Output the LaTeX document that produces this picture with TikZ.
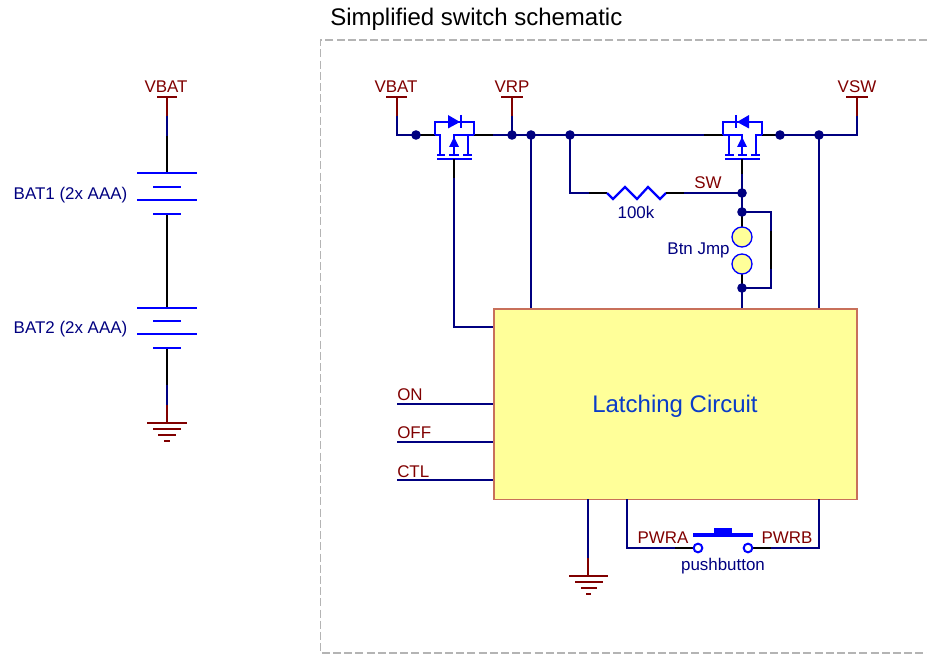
\documentclass[tikz,border=0pt]{standalone}
\usepackage{fontspec}
\setmainfont{Liberation Sans}
\usetikzlibrary{arrows.meta}
\definecolor{wireblue}{HTML}{000080}
\definecolor{symblue}{HTML}{0000FF}
\definecolor{portred}{HTML}{800000}
\definecolor{boxfill}{HTML}{FFFF99}
\definecolor{boxedge}{HTML}{C8705A}
\definecolor{frameg}{HTML}{B4B4B4}
\definecolor{bigtext}{HTML}{0A3CC8}
\definecolor{pinblack}{HTML}{000000}
\tikzset{
  wire/.style={draw=wireblue,line width=1.5pt},
  pin/.style={draw=pinblack,line width=1.5pt},
  port/.style={draw=portred,line width=1.5pt},
  sym/.style={draw=symblue,line width=1.7pt},
  thinsym/.style={draw=symblue,line width=1.5pt},
  junction/.style={circle,fill=wireblue,draw=none,minimum size=7.2pt,inner sep=0pt},
  lab/.style={text=wireblue,font=\fontsize{12.7pt}{14pt}\selectfont,inner sep=0pt},
  plab/.style={text=portred,font=\fontsize{12.7pt}{14pt}\selectfont,inner sep=0pt},
  term/.style={circle,draw=symblue,fill=white,line width=1.5pt,minimum size=6.5pt,inner sep=0pt},
  jmp/.style={circle,draw=symblue,fill=boxfill,line width=1pt,minimum size=15pt,inner sep=0pt},
}
\begin{document}
\begin{tikzpicture}[x=0.75pt,y=-0.75pt]
\useasboundingbox (0,0) rectangle (927,655);

% frame and title
\coordinate (fa) at (927,40);
\coordinate (fb) at (320.5,40);
\coordinate (fc) at (320.5,653);
\coordinate (fd) at (927,653);
\draw[frameg,line width=1.3pt,dash pattern=on 6pt off 2.4pt] (fa) -- (fb) -- (fc) -- (fd);
\node[anchor=base west,inner sep=0pt,font=\fontsize{18pt}{20pt}\selectfont] (title) at (330,25.5) {Simplified switch schematic};

% ---------- battery column ----------
\coordinate (bt) at (167,97);
\coordinate (btl) at (157,97);
\coordinate (btr) at (177,97);
\coordinate (b1) at (167,116);
\coordinate (b2) at (167,136);
\coordinate (b3) at (167,173.5);
\coordinate (b4) at (167,214);
\coordinate (b5) at (167,308);
\coordinate (b6) at (167,348);
\coordinate (b7) at (167,385);
\coordinate (b8) at (167,405);
\coordinate (b9) at (167,423);
\draw[port] (btl) -- (btr);
\draw[port] (bt) -- (b1);
\draw[wire] (b1) -- (b2);
\draw[pin] (b2) -- (b3);
\draw[pin] (b4) -- (b5);
\draw[pin] (b6) -- (b7);
\draw[wire] (b7) -- (b8);
\draw[port] (b8) -- (b9);
\draw[sym] (137,173) -- (197,173);
\draw[thinsym] (153,187) -- (181,187);
\draw[sym] (137,200) -- (197,200);
\draw[thinsym] (153,214) -- (181,214);
\draw[sym] (137,308) -- (197,308);
\draw[thinsym] (153,321) -- (181,321);
\draw[sym] (137,334) -- (197,334);
\draw[thinsym] (153,348) -- (181,348);
\draw[port] (147,423) -- (187,423);
\draw[port] (153,429) -- (181,429);
\draw[port] (158,435) -- (176,435);
\draw[port] (164,440.5) -- (170,440.5);
\node[plab,anchor=base] (vbat1) at (166,93) {VBAT};
\node[lab,anchor=base] (bat1) at (70.5,199.5) {BAT1 (2x AAA)};
\node[lab,anchor=base] (bat2) at (70.5,334) {BAT2 (2x AAA)};

% ---------- latching box ----------
\node[draw=boxedge,fill=boxfill,line width=1.2pt,minimum width=272.5pt,minimum height=143pt,inner sep=0pt,anchor=north west] (box) at (493,308) {};
\node[text=bigtext,font=\fontsize{18pt}{20pt}\selectfont,anchor=base,inner sep=0pt] (latch) at (675,412) {Latching Circuit};

% ---------- top rail ----------
\coordinate (p1t) at (397,97);
\coordinate (p1l) at (386,97);
\coordinate (p1r) at (407,97);
\coordinate (p1m) at (397,116);
\coordinate (p1c) at (397,135);
\coordinate (ml) at (435,135);
\coordinate (mr) at (474,135);
\coordinate (nl) at (723,135);
\coordinate (nr) at (762,135);
\coordinate (p4c) at (857,135);
\coordinate (p4m) at (857,116);
\coordinate (p4t) at (857,97);
\coordinate (p4l) at (846,97);
\coordinate (p4r) at (868,97);
\coordinate (p2m) at (512,116);
\coordinate (p2t) at (512,97);
\coordinate (p2l) at (501,97);
\coordinate (p2r) at (523,97);
\coordinate (w1) at (493,135);
\coordinate (w2) at (704,135);
\coordinate (wj1) at (416,135);
\coordinate (wj2) at (512,135);
\coordinate (wj3) at (531,135);
\coordinate (wj4) at (570,135);
\coordinate (wj5) at (780,135);
\coordinate (wj6) at (819,135);

\draw[port] (p1l) -- (p1r);
\draw[port] (p1t) -- (p1m);
\draw[wire] (p1m) -- (p1c) -- (wj1);
\draw[pin] (wj1) -- (ml);
\draw[pin] (mr) -- (w1);
\draw[wire] (w1) -- (wj2);
\draw[wire] (wj2) -- (wj3);
\draw[wire] (wj3) -- (wj4);
\draw[wire] (wj4) -- (w2);
\draw[pin] (w2) -- (nl);
\draw[pin] (nr) -- (wj5);
\draw[wire] (wj5) -- (wj6);
\draw[wire] (wj6) -- (p4c) -- (p4m);
\draw[port] (p4m) -- (p4t);
\draw[port] (p4l) -- (p4r);
\draw[port] (p2l) -- (p2r);
\draw[port] (p2t) -- (p2m);
\draw[wire] (p2m) -- (wj2);
\node[plab,anchor=base] (vbat2) at (396,93) {VBAT};
\node[plab,anchor=base] (vrp) at (512,93) {VRP};
\node[plab,anchor=base] (vsw) at (857,93) {VSW};

% left MOSFET
\draw[sym] (ml) -- (435,122) -- (474,122) -- (mr);
\draw[sym] (435,135) -- (440,135) -- (440,154);
\draw[sym] (474,135) -- (468,135) -- (468,154);
\draw[sym] (468,135) -- (454,135) -- (454,154);
\fill[symblue] (454,137) -- (459,147) -- (449,147) -- cycle;
\fill[symblue] (448,115) -- (460,122) -- (448,128.5) -- cycle;
\draw[sym] (461,115) -- (461,128.5);
\draw[sym] (437,155) -- (445,155);
\draw[sym] (449,155) -- (459,155);
\draw[sym] (463,155) -- (472,155);
\draw[sym] (437,159) -- (472,159);

% right MOSFET
\draw[sym] (nl) -- (723,122) -- (762,122) -- (nr);
\draw[sym] (723,135) -- (742,135) -- (742,154);
\draw[sym] (762,135) -- (756,135) -- (756,154);
\draw[sym] (729,135) -- (729,154);
\fill[symblue] (742,137) -- (747,147) -- (737,147) -- cycle;
\fill[symblue] (749,115) -- (737,122) -- (749,128.5) -- cycle;
\draw[sym] (736,115) -- (736,128.5);
\draw[sym] (725,155) -- (734,155);
\draw[sym] (738,155) -- (747,155);
\draw[sym] (751,155) -- (760,155);
\draw[sym] (725,159) -- (760,159);

% left gate and drops into box
\coordinate (g1) at (454,159);
\coordinate (g2) at (454,178);
\coordinate (g3) at (454,327);
\coordinate (g4) at (493,327);
\draw[pin] (g1) -- (g2);
\draw[wire] (g2) -- (g3) -- (g4);
\coordinate (d1) at (531,308);
\coordinate (d2) at (819,308);
\draw[wire] (wj3) -- (d1);
\draw[wire] (wj6) -- (d2);

% SW branch
\coordinate (wj7) at (742,193);
\coordinate (wj8) at (742,212);
\coordinate (wj9) at (742,288);
\coordinate (g5) at (742,159);
\coordinate (g6) at (742,174);
\coordinate (rc) at (570,193);
\coordinate (r0) at (589,193);
\coordinate (r1) at (607,193);
\coordinate (r2) at (666,193);
\coordinate (r3) at (684,193);
\coordinate (k1) at (771,212);
\coordinate (k2) at (771,288);
\coordinate (k3) at (771,231);
\coordinate (k4) at (771,269);
\coordinate (tbox) at (742,308);
\draw[pin] (g5) -- (g6);
\draw[wire] (g6) -- (wj7);
\draw[wire] (wj4) -- (rc) -- (r0);
\draw[pin] (r0) -- (r1);
\draw[sym] (r1) -- (613,199) -- (625,187) -- (637,199) -- (648,187) -- (660,199) -- (r2);
\draw[pin] (r2) -- (r3);
\draw[wire] (r3) -- (wj7);
\draw[wire] (wj7) -- (wj8);
\draw[wire] (wj8) -- (k1) -- (k3);
\draw[pin] (k3) -- (k4);
\draw[wire] (k4) -- (k2) -- (wj9);
\draw[pin] (wj8) -- (742,237);
\draw[pin] (742,264) -- (wj9);
\draw[wire] (wj9) -- (tbox);
\node[jmp] (jp1) at (742,237) {};
\node[jmp] (jp2) at (742,264) {};
\node[plab,anchor=base] (sw) at (708,189) {SW};
\node[lab,anchor=base] (r100k) at (636,219) {100k};
\node[lab,anchor=base] (btn) at (698.5,254.5) {Btn Jmp};

% junction dots on top of the wires
\node[junction] (j1) at (wj1) {};
\node[junction] (j2) at (wj2) {};
\node[junction] (j3) at (wj3) {};
\node[junction] (j4) at (wj4) {};
\node[junction] (j5) at (wj5) {};
\node[junction] (j6) at (wj6) {};
\node[junction] (j7) at (wj7) {};
\node[junction] (j8) at (wj8) {};
\node[junction] (j9) at (wj9) {};

% left inputs
\coordinate (on0) at (397,404);
\coordinate (on1) at (493,404);
\coordinate (off0) at (397,442);
\coordinate (off1) at (493,442);
\coordinate (ctl0) at (397,480);
\coordinate (ctl1) at (493,480);
\draw[wire] (on0) -- (on1);
\draw[wire] (off0) -- (off1);
\draw[wire] (ctl0) -- (ctl1);
\node[plab,anchor=base west] (on) at (397,400.5) {ON};
\node[plab,anchor=base west] (off) at (397,438) {OFF};
\node[plab,anchor=base west] (ctl) at (397,477) {CTL};

% bottom ground
\coordinate (gt) at (588,499);
\coordinate (gm) at (588,558);
\coordinate (gb) at (588,576);
\draw[wire] (gt) -- (gm);
\draw[port] (gm) -- (gb);
\draw[port] (569,576) -- (608,576);
\draw[port] (575,582) -- (603,582);
\draw[port] (581,588) -- (597,588);
\draw[port] (586,594) -- (591,594);

% pushbutton
\coordinate (pa0) at (627,499);
\coordinate (pa1) at (627,548);
\coordinate (pa2) at (675,548);
\coordinate (pb0) at (819,499);
\coordinate (pb1) at (819,548);
\coordinate (pb2) at (771,548);
\draw[wire] (pa0) -- (pa1) -- (pa2);
\draw[pin] (pa2) -- (698,548);
\draw[wire] (pb0) -- (pb1) -- (pb2);
\draw[pin] (pb2) -- (748,548);
\node[term] (ta) at (698,548) {};
\node[term] (tb) at (748,548) {};
\draw[symblue,line width=2.6pt] (693,535) -- (753,535);
\fill[symblue] (714,527.5) rectangle (732,535);
\node[plab,anchor=base] (pwra) at (663,543) {PWRA};
\node[plab,anchor=base] (pwrb) at (787,543) {PWRB};
\node[lab,anchor=base] (pb) at (723,570) {pushbutton};
\end{tikzpicture}
\end{document}
